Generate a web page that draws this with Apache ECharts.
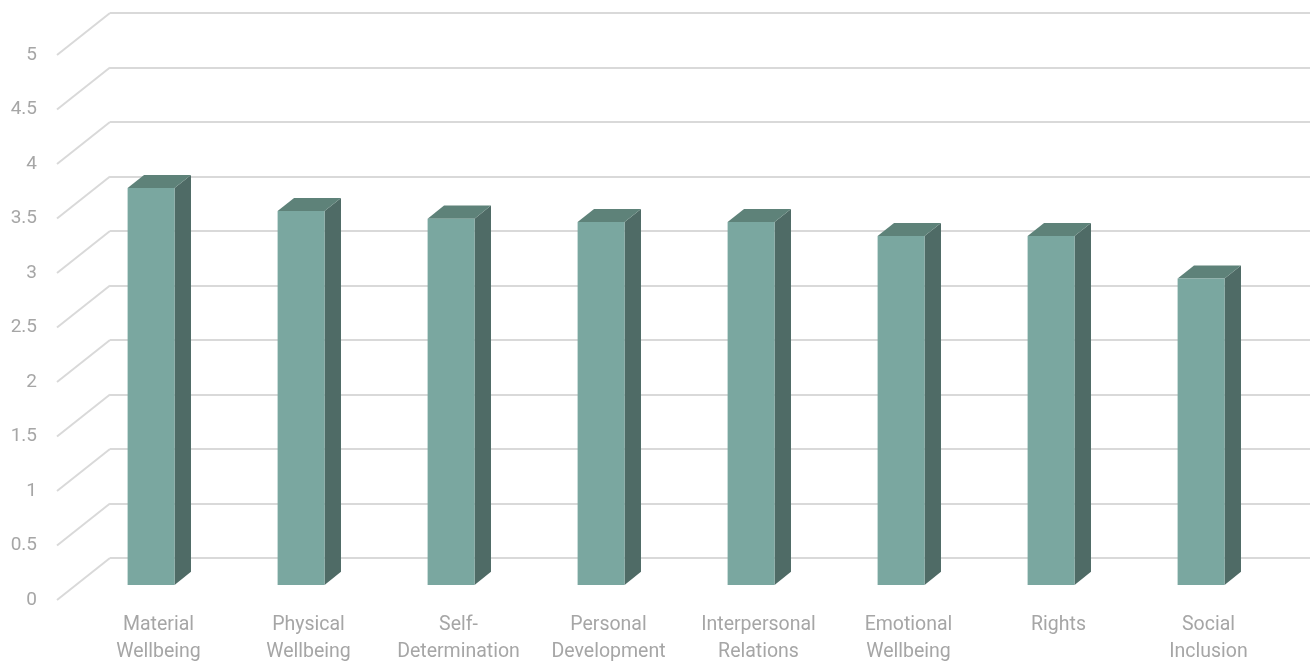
<!DOCTYPE html>
<html>
<head>
<meta charset="utf-8">
<script src="https://cdn.jsdelivr.net/npm/echarts@6/dist/echarts.min.js"></script>
<style>html,body{margin:0;padding:0;background:#fff}#c{width:1315px;height:666px}</style>
</head>
<body>
<div id="c"></div>
<script>
var categories = ['Material\nWellbeing', 'Physical\nWellbeing', 'Self-\nDetermination', 'Personal\nDevelopment', 'Interpersonal\nRelations', 'Emotional\nWellbeing', 'Rights', 'Social\nInclusion'];
var values = [3.64, 3.43, 3.36, 3.33, 3.33, 3.20, 3.20, 2.81];
var tickValues = [0, 0.5, 1, 1.5, 2, 2.5, 3, 3.5, 4, 4.5, 5];

// 3D projection offsets (pixels) of the full depth
var DX = 53, DY = 42;
var FRONT_D = 0.36, BAR_D = 0.31, BAR_W = 0.313;
var FONT = 'Roboto, "Noto Sans", sans-serif';

var chart = echarts.init(document.getElementById('c'));
chart.setOption({
  animation: false,
  grid: [
    {left: 57, right: 58, top: 55, bottom: 66},      // front plane
    {left: 110, right: 5, top: 13, bottom: 108},     // back wall
    {left: 83.5, right: 31.5, top: 34, bottom: 87}   // mid depth (labels)
  ],
  xAxis: [
    {type: 'category', gridIndex: 0, data: categories, show: false},
    {type: 'category', gridIndex: 1, data: categories, show: false},
    {type: 'category', gridIndex: 2, data: categories,
      axisLine: {show: false}, axisTick: {show: false},
      axisLabel: {interval: 0, hideOverlap: false, margin: 35, color: '#a6a6a6', fontSize: 19.5, lineHeight: 27, fontFamily: FONT}}
  ],
  yAxis: [
    {type: 'value', gridIndex: 0, min: 0, max: 5, interval: 0.5,
      axisLine: {show: false}, axisTick: {show: false}, splitLine: {show: false},
      axisLabel: {margin: 20, color: '#a6a6a6', fontSize: 19, fontFamily: FONT}},
    {type: 'value', gridIndex: 1, min: 0, max: 5, interval: 0.5,
      axisLine: {show: false}, axisTick: {show: false}, axisLabel: {show: false},
      splitLine: {show: true, lineStyle: {color: '#d9d9d9', width: 2}}},
    {type: 'value', gridIndex: 2, min: 0, max: 5, show: false}
  ],
  series: [
    {
      type: 'custom', xAxisIndex: 0, yAxisIndex: 0, z: 1,
      data: tickValues.map(function (t) { return [0, t]; }),
      renderItem: function (params, api) {
        var p = api.coord([0, api.value(1)]);
        var x0 = params.coordSys.x;
        return {type: 'line', shape: {x1: x0, y1: p[1], x2: x0 + DX, y2: p[1] - DY},
          style: {stroke: '#d9d9d9', lineWidth: 2}};
      }
    },
    {
      type: 'custom', xAxisIndex: 0, yAxisIndex: 0, z: 5,
      data: values.map(function (v, i) { return [i, v]; }),
      renderItem: function (params, api) {
        var i = api.value(0), v = api.value(1);
        var p0 = api.coord([i, 0]), p1 = api.coord([i, v]);
        var band = api.size([1, 0])[0];
        var w = band * BAR_W;
        var fx = p0[0] + FRONT_D * DX - w / 2;
        var fb = p0[1] - FRONT_D * DY;
        var ft = p1[1] - FRONT_D * DY;
        var dx = BAR_D * DX, dy = BAR_D * DY;
        return {type: 'group', children: [
          {type: 'polygon', shape: {points: [[fx + w, ft], [fx + w + dx, ft - dy], [fx + w + dx, fb - dy], [fx + w, fb]]},
            style: {fill: '#4f6b66'}},
          {type: 'polygon', shape: {points: [[fx, ft], [fx + dx, ft - dy], [fx + w + dx, ft - dy], [fx + w, ft]]},
            style: {fill: '#5e8279'}},
          {type: 'rect', shape: {x: fx, y: ft, width: w, height: fb - ft},
            style: {fill: '#7aa7a0'}}
        ]};
      }
    }
  ]
});
</script>
</body>
</html>
